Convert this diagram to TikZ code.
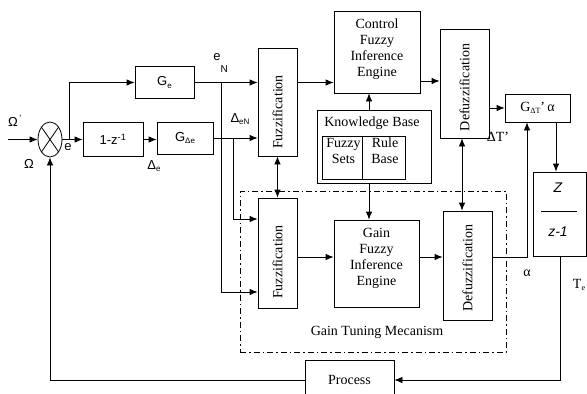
\documentclass[tikz,border=0pt]{standalone}
\usepackage{fontspec}
\setmainfont{Liberation Serif}
\setsansfont{Liberation Sans}
\usetikzlibrary{arrows.meta,shapes.geometric,calc}
\newcommand\mysub[1]{\raisebox{-0.35ex}{\fontsize{8}{8}\selectfont #1}}
\begin{document}
\begin{tikzpicture}[x=1pt,y=-1pt,line width=0.8pt,
  blk/.style={draw, line width=0.8pt, inner sep=0pt},
  arr/.style={-{Latex[length=8pt,width=6.5pt]}, line width=0.8pt},
  darr/.style={{Latex[length=8pt,width=6.5pt]}-{Latex[length=8pt,width=6.5pt]}, line width=0.8pt},
  lbl/.style={font=\fontsize{14}{16}\selectfont, inner sep=0pt, align=center},
  slbl/.style={font=\sffamily\fontsize{13}{15}\selectfont, inner sep=0pt},
  tune/.style={draw, line width=0.7pt, dash pattern=on 6pt off 3pt on 1.5pt off 3pt, inner sep=0pt}
]
\useasboundingbox (0,0) rectangle (587,394);
\clip (0,0) rectangle (587,394);

% summing junction
\node[ellipse, draw, minimum width=24, minimum height=35, inner sep=0pt] (sum) at (50,139.5) {};
\draw (sum.north west) -- (sum.south east);
\draw (sum.north east) -- (sum.south west);
\coordinate (in) at (8,139.5);
\node[slbl] (omp) at (15,121) {Ω\textsuperscript{\,'}};
\node[slbl] (om) at (29,164) {Ω};
\node[slbl] (elab) at (68,147) {e};

% left blocks
\node[blk, slbl, minimum width=59, minimum height=32] (gc) at (164.5,82.5) {G\mysub{e}};
\node[blk, slbl, minimum width=60, minimum height=34] (om1) at (113,139.5) {1-z\textsuperscript{-1}};
\node[blk, slbl, minimum width=56, minimum height=32] (gde) at (185,138) {G\mysub{Δe}};
\node[slbl] (dlab) at (154,166) {Δ\mysub{e}};
\node[slbl] (dnlab) at (240,119) {Δ\mysub{eN}};
\node[slbl, anchor=base west] (enlab) at (213,60) {e\raisebox{-12pt}{\fontsize{10}{10}\selectfont N}};

% fuzzification
\node[blk, lbl, minimum width=39, minimum height=108] (fuzz1) at (277.5,102) {\rotatebox{90}{Fuzzification\kern20pt}};
\node[blk, lbl, minimum width=39, minimum height=110] (fuzz2) at (277.5,253) {\rotatebox{90}{Fuzzification\kern18pt}};

% control FIE
\node[blk, minimum width=86, minimum height=82] (ctrl) at (377,52) {};
\node[lbl] (ctrlt) at (377,49) {Control\\Fuzzy\\Inference\\Engine};

% knowledge base
\node[blk, minimum width=114, minimum height=73] (kb) at (374,146.5) {};
\node[lbl] (kbt) at (372,123) {Knowledge Base};
\node[blk, minimum width=40, minimum height=43] (fs) at (342,157.5) {};
\node[blk, minimum width=43, minimum height=43] (rb) at (383.5,157.5) {};
\node[lbl] (fst) at (343.5,151) {Fuzzy\\Sets};
\node[lbl] (rbt) at (385,151) {Rule\\Base};

% gain FIE
\node[blk, minimum width=85, minimum height=87] (gain) at (376.5,263.5) {};
\node[lbl] (gaint) at (376.5,258) {Gain\\Fuzzy\\Inference\\Engine};

% defuzzification
\node[blk, lbl, minimum width=49, minimum height=109] (def1) at (464.5,83.5) {\rotatebox{90}{Defuzzification\kern8pt}};
\node[blk, lbl, minimum width=49, minimum height=109] (def2) at (467.5,265.5) {\rotatebox{90}{Defuzzification\kern5pt}};

% output blocks
\node[blk, lbl, minimum width=65, minimum height=28] (gbox) at (537.5,108) {G\mysub{ΔT}'\,α};
\node[blk, minimum width=53, minimum height=84] (zbox) at (559.5,214) {};
\node[font=\sffamily\itshape\fontsize{14}{16}\selectfont, inner sep=0pt] (zt) at (558,188) {Z};
\node[font=\sffamily\itshape\fontsize{14}{16}\selectfont, inner sep=0pt] (zb) at (558,232) {z-1};
\draw (541,211) -- (577,211);
\node[blk, lbl, minimum width=89, minimum height=40] (process) at (349.5,380) {Process};

\node[lbl] (dtlab) at (498,137) {ΔT'};
\node[lbl] (alab) at (527,273) {α};
\node[lbl] (telab) at (579,285) {T\mysub{e}};

% gain tuning mechanism
\node[tune, minimum width=266, minimum height=161] (gtm) at (373,271.5) {};
\node[lbl] (gtmt) at (377,332) {Gain Tuning Mecanism};

% connectors
\draw[arr] (in) -- (sum.west);
\draw[arr] (sum.east) -- (om1.west);
\coordinate (br) at (69,139.5);
\draw[arr] (br) |- (gc.west);
\draw[arr] (om1.east) -- (om1.east -| gde.west);
\draw[arr] (gc.east) -- (gc.east -| fuzz1.west);
\draw[arr] (gde.east) -- (gde.east -| fuzz1.west);
\coordinate (j1) at (221,82.5);
\draw[arr] (j1) |- ([shift={(0,39)}]fuzz2.west);
\coordinate (j2) at (233,138);
\draw[arr] (j2) |- ([shift={(0,-34)}]fuzz2.west);
\draw[darr] (fuzz1.south) -- (fuzz2.north);
\draw[arr] (gc.east -| fuzz1.east) -- (gc.east -| ctrl.west);
\draw[arr] ([shift={(0,4)}]fuzz2.east) -- ([shift={(0,4)}]fuzz2.east -| gain.west);
\coordinate (kx) at (369,0);
\draw[arr] (kx |- kb.north) -- (kx |- ctrl.south);
\draw[arr] (kx |- kb.south) -- (kx |- gain.north);
\draw[arr] ([shift={(0,29)}]ctrl.east) -- ([shift={(0,29)}]ctrl.east -| def1.west);
\draw[arr] ([shift={(0,-6.5)}]gain.east) -- ([shift={(0,-6.5)}]gain.east -| def2.west);
\coordinate (dx) at (462,0);
\draw[darr] (dx |- def1.south) -- (dx |- def2.north);
\draw[arr] (gbox.west -| def1.east) -- (gbox.west);
\coordinate (ux) at (527,0);
\draw[arr] ([shift={(0,-8.5)}]def2.east) -| (ux |- gbox.south);
\coordinate (dnx) at (556,0);
\draw[arr] (dnx |- gbox.south) -- (dnx |- zbox.north);
\coordinate (zx) at (560,0);
\draw[arr] (zx |- zbox.south) |- (process.east);
\draw[arr] (process.west) -| (sum.south);
\end{tikzpicture}
\end{document}
